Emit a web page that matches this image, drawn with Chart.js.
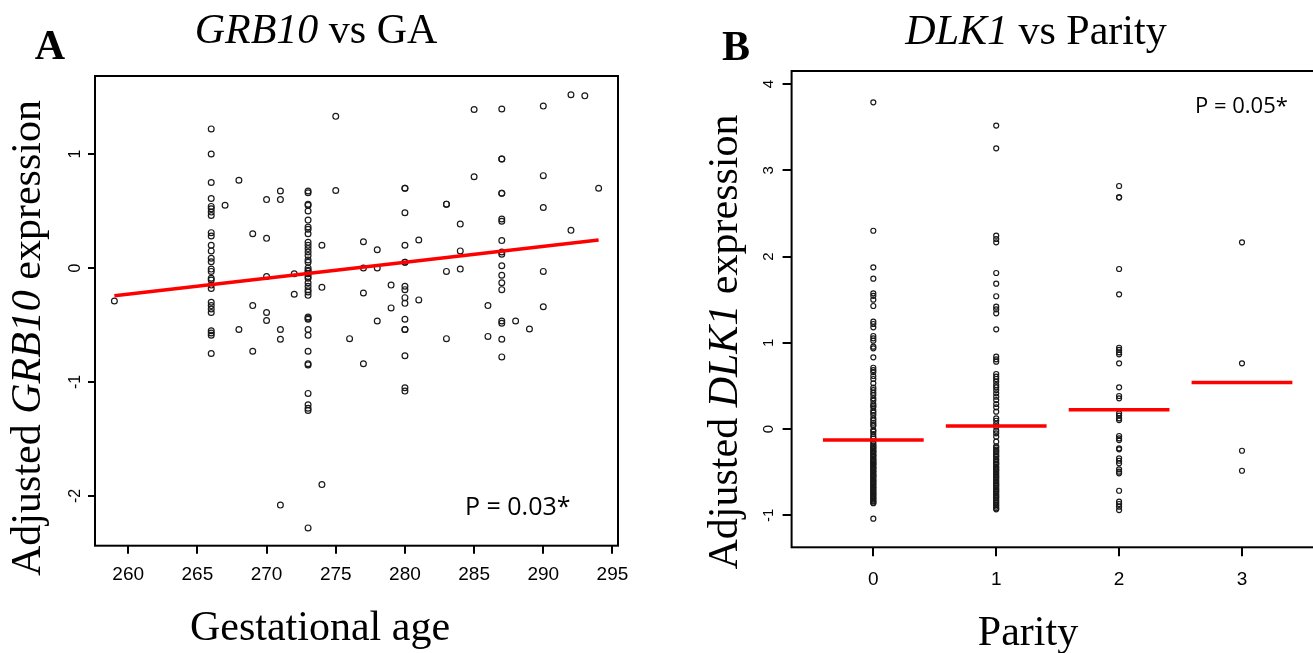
<!DOCTYPE html>
<html>
<head>
<meta charset="utf-8">
<script src="https://cdn.jsdelivr.net/npm/chart.js@4"></script>
<style>
  html, body { margin: 0; padding: 0; background: #fff; overflow: hidden; }
  body { width: 1313px; height: 653px; position: relative; }
  canvas { position: absolute; top: 0; }
  #chartA { left: 0; }
  #chartB { left: 656px; }
</style>
</head>
<body>
<canvas id="chartA" width="656" height="653"></canvas>
<canvas id="chartB" width="680" height="653"></canvas>
<script>
// ---- panel A: GRB10 vs gestational age (points grouped by GA in days)
const gaDays = [259, 266, 267, 268, 269, 270, 271, 272, 273, 274, 275, 276, 277, 278,
                279, 280, 281, 283, 284, 285, 286, 287, 288, 289, 290, 292, 293, 294];
const grb10ByGa = [
  [-0.29],
  [1.22, 1.0, 0.75, 0.61, 0.54, 0.52, 0.49, 0.46, 0.31, 0.28, 0.20, 0.15, 0.085, 0.055,
   -0.01, -0.03, -0.09, -0.105, -0.15, -0.18, -0.30, -0.33, -0.36, -0.39, -0.55, -0.57, -0.59, -0.75],
  [0.55],
  [0.77, -0.54],
  [0.30, -0.33, -0.73],
  [0.60, 0.26, -0.075, -0.39, -0.46],
  [0.675, 0.60, -0.54, -0.625, -2.08],
  [-0.05, -0.23],
  [0.675, 0.66, 0.56, 0.55, 0.50, 0.42, 0.36, 0.34, 0.30, 0.225, 0.20, 0.17, 0.14, 0.11,
   0.07, 0.05, 0.0, -0.02, -0.03, -0.05, -0.075, -0.09, -0.13, -0.16, -0.19, -0.21, -0.24,
   -0.43, -0.44, -0.45, -0.54, -0.59, -0.73, -0.84, -0.85, -1.1, -1.2, -1.23, -1.25, -2.28],
  [0.20, -0.17, -1.90],
  [1.33, 0.68],
  [-0.62],
  [0.23, 0.0, -0.22, -0.84],
  [0.16, 0.0, -0.465],
  [-0.15, -0.35],
  [0.70, 0.70, 0.485, 0.20, 0.05, 0.05, -0.16, -0.19, -0.26, -0.31, -0.45, -0.54, -0.54, -0.77, -1.05, -1.08],
  [0.245, -0.28],
  [0.56, 0.56, -0.03, -0.62],
  [0.385, 0.15, -0.01],
  [1.39, 0.80],
  [-0.33, -0.60],
  [1.395, 0.956, 0.956, 0.655, 0.655, 0.43, 0.41, 0.24, 0.14, 0.12, 0.02, -0.064, -0.13,
   -0.19, -0.465, -0.485, -0.625, -0.78],
  [-0.465],
  [-0.535],
  [1.42, 0.81, 0.53, -0.03, -0.34],
  [1.52, 0.33],
  [1.51],
  [0.70]
];
const fitGa = [259, 294];
const fitGrb10 = [-0.243, 0.245];
const gaTicks = [260, 265, 270, 275, 280, 285, 290, 295];
const grb10Ticks = [-2, -1, 0, 1];

// ---- panel B: DLK1 vs parity
const parityLevels = [0, 1, 2, 3];
const dlk1ByParity = [
  [3.79, 2.30, 1.876, 1.744, 1.574, 1.545, 1.50, 1.427, 1.245, 1.218, 1.18, 1.079, 1.052, 1.025,
   0.955, 0.936, 0.832, 0.711, 0.684, 0.66, 0.615, 0.58, 0.53, 0.48, 0.452, 0.42, 0.394, 0.356,
   0.33, 0.29, 0.27, 0.252, 0.213, 0.19, 0.162, 0.124, 0.10, 0.073, 0.05, 0.035, -0.012, -0.03,
   -0.058, -0.089, -0.11, -0.147, -0.17,
   -0.19, -0.205, -0.22, -0.23, -0.25, -0.262, -0.27, -0.29, -0.305, -0.31, -0.33, -0.345, -0.36,
   -0.37, -0.385, -0.40, -0.405, -0.42, -0.44, -0.45, -0.46, -0.48, -0.49, -0.5, -0.52, -0.535,
   -0.54, -0.555, -0.57, -0.585, -0.6, -0.61, -0.625, -0.64, -0.65, -0.67, -0.68, -0.69, -0.71,
   -0.72, -0.735, -0.75, -0.76, -0.775, -0.79, -0.8, -0.815, -0.83, -0.84, -0.855, -0.86, -1.04],
  [3.52, 3.256, 2.243, 2.204, 2.166, 1.81, 1.686, 1.54, 1.419, 1.388, 1.342, 1.156, 0.839, 0.808,
   0.781, 0.638, 0.607, 0.58, 0.549, 0.51, 0.484, 0.452, 0.414, 0.375, 0.336, 0.29, 0.252, 0.201,
   0.124, 0.096, 0.058, 0.027, -0.019, -0.05, -0.089, -0.147,
   -0.2, -0.215, -0.24, -0.255, -0.27, -0.29, -0.31, -0.32, -0.345, -0.36, -0.38, -0.4, -0.41,
   -0.435, -0.45, -0.47, -0.48, -0.5, -0.52, -0.54, -0.555, -0.57, -0.59, -0.61, -0.63, -0.645,
   -0.66, -0.68, -0.7, -0.715, -0.73, -0.75, -0.77, -0.785, -0.8, -0.82, -0.84, -0.86, -0.88,
   -0.9, -0.92, -0.932],
  [2.819, 2.688, 2.688, 1.856, 1.563, 0.943, 0.917, 0.89, 0.866, 0.762, 0.484, 0.383, 0.356,
   0.182, 0.155, 0.124, 0.104, -0.081, -0.108, -0.128, -0.224, -0.236, -0.34, -0.368, -0.398,
   -0.468, -0.495, -0.514, -0.716, -0.843, -0.87, -0.901, -0.94],
  [2.166, 0.762, -0.252, -0.484]
];
const dlk1Means = [-0.128, 0.035, 0.224, 0.54];
const parityTicks = [0, 1, 2, 3];
const dlk1Ticks = [-1, 0, 1, 2, 3, 4];

const SERIF = '"Liberation Serif", "Times New Roman", serif';
const SANS = '"Liberation Sans", Arial, sans-serif';

// draws a line of text made of normal / italic parts, centred on x
function richText(ctx, parts, x, y, size) {
  let widths = parts.map(p => {
    ctx.font = (p.i ? 'italic ' : '') + size + 'px ' + SERIF;
    return ctx.measureText(p.t).width;
  });
  let total = widths.reduce((a, b) => a + b, 0);
  let cx = x - total / 2;
  ctx.textAlign = 'left';
  ctx.textBaseline = 'alphabetic';
  parts.forEach((p, k) => {
    ctx.font = (p.i ? 'italic ' : '') + size + 'px ' + SERIF;
    ctx.fillText(p.t, cx, y);
    cx += widths[k];
  });
}

function decor(d) {
  return {
    id: 'decor',
    afterDraw(chart) {
      const ctx = chart.ctx;
      const ca = chart.chartArea;
      ctx.save();
      ctx.fillStyle = '#000';
      ctx.strokeStyle = '#000';
      ctx.lineWidth = 2;
      ctx.strokeRect(ca.left, ca.top, ca.right - ca.left, ca.bottom - ca.top);

      // y tick labels, rotated like R's default
      const ys = chart.scales.y;
      ctx.font = d.yTickSize + 'px ' + SANS;
      ctx.textAlign = 'center';
      ctx.textBaseline = 'middle';
      ys.ticks.forEach(t => {
        ctx.save();
        ctx.translate(d.yTickX, ys.getPixelForValue(t.value));
        ctx.rotate(-Math.PI / 2);
        ctx.fillText(String(t.value), 0, 0);
        ctx.restore();
      });

      // panel letter
      ctx.font = 'bold 42px ' + SERIF;
      ctx.textAlign = 'center';
      ctx.textBaseline = 'alphabetic';
      ctx.fillText(d.letter, d.letterX, d.letterY);

      richText(ctx, d.title, d.titleX, d.titleY, 42);
      richText(ctx, d.xTitle, d.xTitleX, d.xTitleY, 42);

      ctx.save();
      ctx.translate(d.yTitleX, d.yTitleY);
      ctx.rotate(-Math.PI / 2);
      richText(ctx, d.yTitle, 0, 0, 42);
      ctx.restore();

      ctx.font = d.pSize + 'px "Open Sans", sans-serif';
      ctx.textAlign = 'left';
      ctx.textBaseline = 'alphabetic';
      ctx.fillText(d.pText, d.pX, d.pY);
      ctx.restore();
    }
  };
}

function axis(min, max, ticks, tickLen, pad, fontSize, fitSize, horizontal) {
  return {
    type: 'linear',
    min: min,
    max: max,
    bounds: 'data',
    afterBuildTicks: s => { s.ticks = ticks.map(v => ({ value: v })); },
    afterFit: s => { if (horizontal) s.height = fitSize; else s.width = fitSize; },
    border: { display: false },
    grid: { drawOnChartArea: false, drawTicks: true, tickLength: tickLen, color: '#000', lineWidth: 2 },
    ticks: {
      display: horizontal,
      autoSkip: false,
      maxRotation: 0,
      padding: pad,
      color: '#000',
      font: { family: SANS, size: fontSize }
    }
  };
}

const circle = {
  showLine: false,
  pointStyle: 'circle',
  backgroundColor: 'rgba(0,0,0,0)',
  borderColor: '#1a1a1a',
  borderWidth: 1.2
};

// ---- chart A
const pointsA = gaDays.flatMap((g, i) => grb10ByGa[i].map(v => ({ x: g, y: v })));
new Chart(document.getElementById('chartA'), {
  type: 'scatter',
  data: {
    datasets: [
      {
        data: fitGa.map((g, i) => ({ x: g, y: fitGrb10[i] })),
        showLine: true, borderColor: '#ff0000', borderWidth: 3.4, pointRadius: 0
      },
      Object.assign({ data: pointsA, pointRadius: 2.9 }, circle)
    ]
  },
  options: {
    responsive: false,
    animation: false,
    layout: { padding: { left: 87, top: 76, right: 38, bottom: 67.3 } },
    plugins: { legend: { display: false }, tooltip: { enabled: false } },
    scales: {
      x: axis(257.6, 295.4, gaTicks, 8, 10, 19, 40, true),
      y: axis(-2.436, 1.684, grb10Ticks, 7, 0, 16, 8, false)
    }
  },
  plugins: [decor({
    letter: 'A', letterX: 50, letterY: 59,
    title: [{ t: 'GRB10', i: true }, { t: ' vs GA' }], titleX: 316, titleY: 43,
    xTitle: [{ t: 'Gestational age' }], xTitleX: 320, xTitleY: 640,
    yTitle: [{ t: 'Adjusted ' }, { t: 'GRB10', i: true }, { t: ' expression' }], yTitleX: 40, yTitleY: 338,
    yTickSize: 16, yTickX: 76,
    pText: 'P = 0.03*', pSize: 25, pX: 465, pY: 515
  })]
});

// ---- chart B
const pointsB = parityLevels.flatMap((p, i) => dlk1ByParity[i].map(v => ({ x: p, y: v })));
const halfWidth = 0.41;
const meanLines = parityLevels.map((p, i) => ({
  data: [{ x: p - halfWidth, y: dlk1Means[i] }, { x: p + halfWidth, y: dlk1Means[i] }],
  showLine: true, borderColor: '#ff0000', borderWidth: 3.4, pointRadius: 0
}));
new Chart(document.getElementById('chartB'), {
  type: 'scatter',
  data: {
    datasets: meanLines.concat([Object.assign({ data: pointsB, pointRadius: 2.5 }, circle)])
  },
  options: {
    responsive: false,
    animation: false,
    layout: { padding: { left: 126.6, top: 71, right: 12.3, bottom: 65.7 } },
    plugins: { legend: { display: false }, tooltip: { enabled: false } },
    scales: {
      x: axis(-0.665, 3.665, parityTicks, 9, 12, 19, 40, true),
      y: axis(-1.372, 4.153, dlk1Ticks, 9, 0, 15, 9, false)
    }
  },
  plugins: [decor({
    letter: 'B', letterX: 80, letterY: 60,
    title: [{ t: 'DLK1', i: true }, { t: ' vs Parity' }], titleX: 380, titleY: 44,
    xTitle: [{ t: 'Parity' }], xTitleX: 372, xTitleY: 645,
    yTitle: [{ t: 'Adjusted ' }, { t: 'DLK1', i: true }, { t: ' expression' }], yTitleX: 81, yTitleY: 342,
    yTickSize: 15, yTickX: 113,
    pText: 'P = 0.05*', pSize: 22, pX: 539, pY: 113
  })]
});
</script>
</body>
</html>
